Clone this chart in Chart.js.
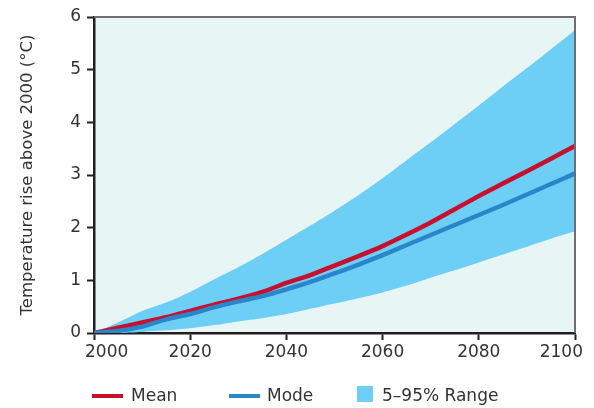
<!DOCTYPE html>
<html>
<head>
<meta charset="utf-8">
<script src="https://cdn.jsdelivr.net/npm/chart.js@4"></script>
<style>
  html, body { margin: 0; padding: 0; background: #ffffff; }
  #wrap { position: relative; width: 594px; height: 408px; }
  canvas { display: block; }
  .leg { position: absolute; font-family: "DejaVu Sans", sans-serif; font-size: 17px; color: #333333; line-height: 20px; top: 385px; white-space: nowrap; }
  .line { position: absolute; height: 4.5px; top: 393.5px; width: 31px; }
  .sq { position: absolute; width: 16px; height: 16px; top: 386px; left: 357px; background: #6dcff6; }
</style>
</head>
<body>
<div id="wrap">
  <canvas id="c" width="594" height="408"></canvas>
  <div class="line" style="left:92px;background:#c8102e"></div>
  <div class="leg" style="left:131px">Mean</div>
  <div class="line" style="left:229px;background:#2a86c8"></div>
  <div class="leg" style="left:267px">Mode</div>
  <div class="sq"></div>
  <div class="leg" style="left:382px">5–95% Range</div>
</div>
<script>
const years = [2000, 2005, 2010, 2015, 2020, 2025, 2030, 2035, 2040, 2045, 2050, 2055, 2060, 2065, 2070, 2075, 2080, 2085, 2090, 2095, 2100];
const meanValues  = [0, 0.10, 0.20, 0.30, 0.42, 0.54, 0.65, 0.78, 0.95, 1.10, 1.28, 1.46, 1.65, 1.87, 2.10, 2.35, 2.60, 2.84, 3.07, 3.31, 3.55];
const modeValues  = [0, 0.04, 0.12, 0.26, 0.36, 0.49, 0.60, 0.70, 0.83, 0.97, 1.13, 1.30, 1.48, 1.67, 1.86, 2.05, 2.24, 2.43, 2.63, 2.83, 3.03];
const upperValues = [0, 0.20, 0.42, 0.58, 0.78, 1.02, 1.25, 1.50, 1.77, 2.04, 2.32, 2.62, 2.94, 3.28, 3.62, 3.97, 4.32, 4.68, 5.03, 5.39, 5.75];
const lowerValues = [0, 0.00, 0.02, 0.05, 0.09, 0.15, 0.22, 0.28, 0.36, 0.46, 0.56, 0.66, 0.77, 0.90, 1.05, 1.19, 1.34, 1.49, 1.64, 1.79, 1.93];
const xTickValues = [2000, 2020, 2040, 2060, 2080, 2100];
const yTickValues = [0, 1, 2, 3, 4, 5, 6];
const yTitle = "Temperature rise above 2000 (°C)";

const pts = (vals) => years.map((y, i) => ({ x: y, y: vals[i] }));

const areaPlugin = {
  id: 'area',
  beforeDraw(chart) {
    const { ctx, chartArea: a } = chart;
    ctx.save();
    ctx.fillStyle = '#e8f5f5';
    ctx.fillRect(a.left, a.top, a.right - a.left, a.bottom - a.top);
    ctx.restore();
  },
  afterDraw(chart) {
    const { ctx, chartArea: a } = chart;
    ctx.save();
    ctx.strokeStyle = '#6d6e71';
    ctx.lineWidth = 2;
    ctx.beginPath();
    ctx.moveTo(a.left, a.top);
    ctx.lineTo(a.right, a.top);
    ctx.lineTo(a.right, a.bottom);
    ctx.stroke();
    // x tick labels, kept inside the frame area like the reference
    const xs = chart.scales.x;
    ctx.font = '17px "DejaVu Sans"';
    ctx.fillStyle = '#333333';
    ctx.textBaseline = 'top';
    ctx.textAlign = 'left';
    xs.ticks.forEach(t => {
      const label = String(t.value);
      const w = ctx.measureText(label).width;
      const cx = xs.getPixelForValue(t.value);
      let left = cx - w / 2;
      left = Math.max(left, a.left - 9);
      left = Math.min(left, a.right + 8 - w);
      ctx.fillText(label, left, a.bottom + 11);
    });
    ctx.restore();
  }
};

new Chart(document.getElementById('c'), {
  type: 'line',
  data: {
    datasets: [
      { label: 'Mode', data: pts(modeValues), borderColor: '#2a86c8', borderWidth: 4.5, pointRadius: 0, fill: false, tension: 0.2 },
      { label: 'Mean', data: pts(meanValues), borderColor: '#c8102e', borderWidth: 4.5, pointRadius: 0, fill: false, tension: 0.2 },
      { label: '5–95% Range', data: pts(upperValues), borderWidth: 0, borderColor: 'rgba(0,0,0,0)', backgroundColor: '#6dcff6', pointRadius: 0, fill: '+1', tension: 0.2 },
      { label: 'lower', data: pts(lowerValues), borderWidth: 0, borderColor: 'rgba(0,0,0,0)', pointRadius: 0, fill: false, tension: 0.2 }
    ]
  },
  options: {
    responsive: false,
    animation: false,
    layout: { padding: { left: 0, right: 19, top: 17, bottom: 45 } },
    plugins: { legend: { display: false }, tooltip: { enabled: false } },
    scales: {
      x: {
        type: 'linear', min: 2000, max: 2100,
        afterBuildTicks(s) { s.ticks = xTickValues.map(v => ({ value: v })); },
        afterFit(s) { s.height = 30; },
        ticks: { callback: () => '', padding: 0 },
        grid: { drawOnChartArea: false, drawTicks: true, tickLength: 7, tickColor: '#231f20', tickWidth: 2 },
        border: { color: '#231f20', width: 2.5 }
      },
      y: {
        min: 0, max: 6,
        afterBuildTicks(s) { s.ticks = yTickValues.map(v => ({ value: v })); },
        afterFit(s) { s.width = 94; },
        ticks: { color: '#333333', font: { family: 'DejaVu Sans', size: 17 }, padding: 6 },
        grid: { drawOnChartArea: false, drawTicks: true, tickLength: 7, tickColor: '#231f20', tickWidth: 2 },
        border: { color: '#231f20', width: 2.5 },
        title: { display: true, text: yTitle, color: '#333333', font: { family: 'DejaVu Sans', size: 16.5 }, padding: { top: 18, bottom: 4 } }
      }
    }
  },
  plugins: [areaPlugin]
});
</script>
</body>
</html>
